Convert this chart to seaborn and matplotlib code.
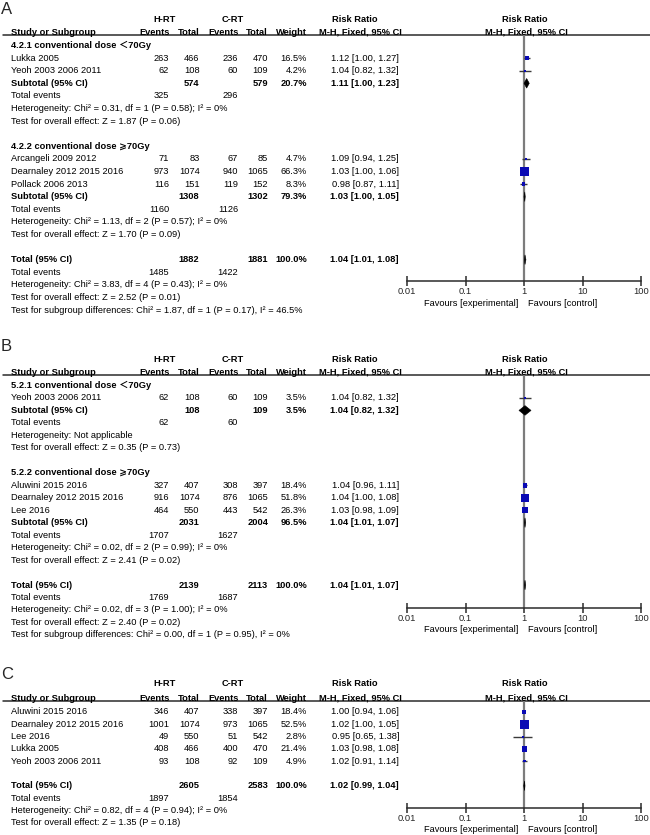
import matplotlib
matplotlib.use("Agg")
import matplotlib.pyplot as plt
import matplotlib.ticker as mticker
import seaborn as sns

# ---------------- panel A ----------------
A_titles = ["4.2.1 conventional dose ＜70Gy", "4.2.2 conventional dose ⩾70Gy"]
A_studies = [["Lukka 2005", "Yeoh 2003 2006 2011"],
             ["Arcangeli 2009 2012", "Dearnaley 2012 2015 2016", "Pollack 2006 2013"]]
A_hrt_ev = [[263, 62], [71, 973, 116]]
A_hrt_n = [[466, 108], [83, 1074, 151]]
A_crt_ev = [[236, 60], [67, 940, 119]]
A_crt_n = [[470, 109], [85, 1065, 152]]
A_weight = [[16.5, 4.2], [4.7, 66.3, 8.3]]
A_rr = [[1.12, 1.04], [1.09, 1.03, 0.98]]
A_lo = [[1.00, 0.82], [0.94, 1.00, 0.87]]
A_hi = [[1.27, 1.32], [1.25, 1.06, 1.11]]
A_sub_n = [[574, 579], [1308, 1302]]
A_sub_ev = [[325, 296], [1160, 1126]]
A_sub_w = [20.7, 79.3]
A_sub_rr = [[1.11, 1.00, 1.23], [1.03, 1.00, 1.05]]
A_sub_notes = [["Heterogeneity: Chi² = 0.31, df = 1 (P = 0.58); I² = 0%",
                "Test for overall effect: Z = 1.87 (P = 0.06)"],
               ["Heterogeneity: Chi² = 1.13, df = 2 (P = 0.57); I² = 0%",
                "Test for overall effect: Z = 1.70 (P = 0.09)"]]
A_tot_n = [1882, 1881]
A_tot_ev = [1485, 1422]
A_tot_rr = [1.04, 1.01, 1.08]
A_tot_notes = ["Heterogeneity: Chi² = 3.83, df = 4 (P = 0.43); I² = 0%",
               "Test for overall effect: Z = 2.52 (P = 0.01)",
               "Test for subgroup differences: Chi² = 1.87, df = 1 (P = 0.17), I² = 46.5%"]

# ---------------- panel B ----------------
B_titles = ["5.2.1 conventional dose ＜70Gy", "5.2.2 conventional dose ⩾70Gy"]
B_studies = [["Yeoh 2003 2006 2011"],
             ["Aluwini 2015 2016", "Dearnaley 2012 2015 2016", "Lee 2016"]]
B_hrt_ev = [[62], [327, 916, 464]]
B_hrt_n = [[108], [407, 1074, 550]]
B_crt_ev = [[60], [308, 876, 443]]
B_crt_n = [[109], [397, 1065, 542]]
B_weight = [[3.5], [18.4, 51.8, 26.3]]
B_rr = [[1.04], [1.04, 1.04, 1.03]]
B_lo = [[0.82], [0.96, 1.00, 0.98]]
B_hi = [[1.32], [1.11, 1.08, 1.09]]
B_sub_n = [[108, 109], [2031, 2004]]
B_sub_ev = [[62, 60], [1707, 1627]]
B_sub_w = [3.5, 96.5]
B_sub_rr = [[1.04, 0.82, 1.32], [1.04, 1.01, 1.07]]
B_sub_notes = [["Heterogeneity: Not applicable",
                "Test for overall effect: Z = 0.35 (P = 0.73)"],
               ["Heterogeneity: Chi² = 0.02, df = 2 (P = 0.99); I² = 0%",
                "Test for overall effect: Z = 2.41 (P = 0.02)"]]
B_tot_n = [2139, 2113]
B_tot_ev = [1769, 1687]
B_tot_rr = [1.04, 1.01, 1.07]
B_tot_notes = ["Heterogeneity: Chi² = 0.02, df = 3 (P = 1.00); I² = 0%",
               "Test for overall effect: Z = 2.40 (P = 0.02)",
               "Test for subgroup differences: Chi² = 0.00, df = 1 (P = 0.95), I² = 0%"]

# ---------------- panel C ----------------
C_titles = [None]
C_studies = [["Aluwini 2015 2016", "Dearnaley 2012 2015 2016", "Lee 2016",
              "Lukka 2005", "Yeoh 2003 2006 2011"]]
C_hrt_ev = [[346, 1001, 49, 408, 93]]
C_hrt_n = [[407, 1074, 550, 466, 108]]
C_crt_ev = [[338, 973, 51, 400, 92]]
C_crt_n = [[397, 1065, 542, 470, 109]]
C_weight = [[18.4, 52.5, 2.8, 21.4, 4.9]]
C_rr = [[1.00, 1.02, 0.95, 1.03, 1.02]]
C_lo = [[0.94, 1.00, 0.65, 0.98, 0.91]]
C_hi = [[1.06, 1.05, 1.38, 1.08, 1.14]]
C_tot_n = [2605, 2583]
C_tot_ev = [1897, 1854]
C_tot_rr = [1.02, 0.99, 1.04]
C_tot_notes = ["Heterogeneity: Chi² = 0.82, df = 4 (P = 0.94); I² = 0%",
               "Test for overall effect: Z = 1.35 (P = 0.18)"]

tick_vals = [0.01, 0.1, 1, 10, 100]
tick_labels = ["0.01", "0.1", "1", "10", "100"]

sns.set_theme(style="white")
plt.rcParams["font.family"] = ["Liberation Sans", "Noto Sans CJK SC", "DejaVu Sans"]
FS = 6.7
W, H = 650, 835
BLUE = "#0a0ab4"

fig = plt.figure(figsize=(6.5, 8.35), dpi=100)
tax = fig.add_axes([0, 0, 1, 1])
tax.set_xlim(0, W)
tax.set_ylim(H, 0)
tax.axis("off")

# column right edges (px)
X_LEFT, X_HE, X_HN, X_CE, X_CN, X_W, X_RR = 11, 169, 199.5, 238, 268, 307, 399


def txt(x, y, s, ha="left", bold=False, size=FS, va="center"):
    tax.text(x, y, s, ha=ha, va=va, fontsize=size,
             fontweight="bold" if bold else "normal", color="black")


def rr_str(v):
    return f"{v[0]:.2f} [{v[1]:.2f}, {v[2]:.2f}]"


def draw_panel(letter, lay, titles, studies, he, hn, ce, cn, wt, rr, lo, hi,
               sub_n, sub_ev, sub_w, sub_rr, sub_notes, tot_n, tot_ev, tot_rr, tot_notes):
    tax.text(1, lay["letter"], letter, fontsize=12, va="center", ha="left")
    txt(165, lay["hrt"], "H-RT", ha="center", bold=True)
    txt(233, lay["hrt"], "C-RT", ha="center", bold=True)
    txt(355, lay["hrt"], "Risk Ratio", ha="center", bold=True)
    txt(525, lay["hrt"], "Risk Ratio", ha="center", bold=True)
    # column headers sit on the rule, descenders crossing it
    hy = lay["line"] - 0.3
    hk = dict(bold=True, va="baseline")
    txt(X_LEFT, hy, "Study or Subgroup", **hk)
    txt(X_HE + 1, hy, "Events", ha="right", **hk)
    txt(X_HN + 0.5, hy, "Total", ha="right", **hk)
    txt(X_CE + 1, hy, "Events", ha="right", **hk)
    txt(X_CN, hy, "Total", ha="right", **hk)
    txt(X_W, hy, "Weight", ha="right", **hk)
    txt(360, hy, "M-H, Fixed, 95% CI", ha="center", **hk)
    txt(526, hy, "M-H, Fixed, 95% CI", ha="center", **hk)
    tax.plot([3, W], [lay["line"], lay["line"]], color="#2b2b2b", lw=1.1)

    sq_y, sq_x, sq_w, ci_lo, ci_hi = [], [], [], [], []
    diamonds = []
    k = 0
    for g, title in enumerate(titles):
        if title:
            txt(X_LEFT, lay["row0"] + lay["step"] * k, title, bold=True)
            k += 1
        for i, name in enumerate(studies[g]):
            y = lay["row0"] + lay["step"] * k
            txt(X_LEFT, y, name)
            txt(X_HE, y, str(he[g][i]), ha="right")
            txt(X_HN, y, str(hn[g][i]), ha="right")
            txt(X_CE, y, str(ce[g][i]), ha="right")
            txt(X_CN, y, str(cn[g][i]), ha="right")
            txt(X_W, y, f"{wt[g][i]:.1f}%", ha="right")
            txt(X_RR, y, rr_str((rr[g][i], lo[g][i], hi[g][i])), ha="right")
            sq_y.append(y)
            sq_x.append(rr[g][i])
            sq_w.append(wt[g][i])
            ci_lo.append(lo[g][i])
            ci_hi.append(hi[g][i])
            k += 1
        if sub_n is not None:
            y = lay["row0"] + lay["step"] * k
            txt(X_LEFT, y, "Subtotal (95% CI)", bold=True)
            txt(X_HN, y, str(sub_n[g][0]), ha="right", bold=True)
            txt(X_CN, y, str(sub_n[g][1]), ha="right", bold=True)
            txt(X_W, y, f"{sub_w[g]:.1f}%", ha="right", bold=True)
            txt(X_RR, y, rr_str(sub_rr[g]), ha="right", bold=True)
            diamonds.append((y, sub_rr[g]))
            k += 1
            y = lay["row0"] + lay["step"] * k
            txt(X_LEFT, y, "Total events")
            txt(X_HE, y, str(sub_ev[g][0]), ha="right")
            txt(X_CE, y, str(sub_ev[g][1]), ha="right")
            k += 1
            for note in sub_notes[g]:
                txt(X_LEFT, lay["row0"] + lay["step"] * k, note)
                k += 1
        k += 1
    y = lay["row0"] + lay["step"] * k
    txt(X_LEFT, y, "Total (95% CI)", bold=True)
    txt(X_HN, y, str(tot_n[0]), ha="right", bold=True)
    txt(X_CN, y, str(tot_n[1]), ha="right", bold=True)
    txt(X_W, y, "100.0%", ha="right", bold=True)
    txt(X_RR, y, rr_str(tot_rr), ha="right", bold=True)
    diamonds.append((y, tot_rr))
    k += 1
    y = lay["row0"] + lay["step"] * k
    txt(X_LEFT, y, "Total events")
    txt(X_HE, y, str(tot_ev[0]), ha="right")
    txt(X_CE, y, str(tot_ev[1]), ha="right")
    k += 1
    for note in tot_notes:
        txt(X_LEFT, lay["row0"] + lay["step"] * k, note)
        k += 1

    # forest axes, y in pixel units so rows line up with the text
    ax_y, top = lay["axis"], lay["line"]
    ax = fig.add_axes([407 / W, 1 - ax_y / H, 234 / W, (ax_y - top) / H])
    ax.patch.set_alpha(0)
    ax.set_xscale("log")
    ax.set_xlim(0.01, 100)
    ax.set_ylim(ax_y, top)
    ax.axvline(1, color="#7c7c7c", lw=1.6, zorder=1)
    ax.hlines(sq_y, ci_lo, ci_hi, color="#3a3a3a", lw=1.0, zorder=2)
    sns.scatterplot(x=sq_x, y=sq_y, size=sq_w, sizes=(0, 70), size_norm=(0, 100),
                    marker="s", color=BLUE, linewidth=0, legend=False, ax=ax, zorder=3)
    for dy, (est, dlo, dhi) in diamonds:
        ax.fill([dlo, est, dhi, est], [dy, dy - 4.8, dy, dy + 4.8],
                color="black", lw=0.4, zorder=4)
    for s in ("top", "left", "right"):
        ax.spines[s].set_visible(False)
    ax.spines["bottom"].set_color("#2b2b2b")
    ax.spines["bottom"].set_linewidth(1.1)
    ax.set_xticks(tick_vals)
    ax.set_xticklabels(tick_labels)
    ax.xaxis.set_minor_locator(mticker.NullLocator())
    ax.set_yticks([])
    ax.tick_params(axis="x", direction="inout", length=7, width=1.1, color="#2b2b2b",
                   labelsize=FS, pad=1, bottom=True)
    ax.set_xlabel("")
    ax.set_ylabel("")
    txt(518, ax_y + 22, "Favours [experimental]", ha="right")
    txt(528, ax_y + 22, "Favours [control]", ha="left")


draw_panel("A", dict(letter=9, hrt=19, line=35, row0=45.5, step=12.6, axis=281),
           A_titles, A_studies, A_hrt_ev, A_hrt_n, A_crt_ev, A_crt_n, A_weight, A_rr, A_lo, A_hi,
           A_sub_n, A_sub_ev, A_sub_w, A_sub_rr, A_sub_notes,
           A_tot_n, A_tot_ev, A_tot_rr, A_tot_notes)
draw_panel("B", dict(letter=346.5, hrt=359, line=375, row0=385.5, step=12.47, axis=608),
           B_titles, B_studies, B_hrt_ev, B_hrt_n, B_crt_ev, B_crt_n, B_weight, B_rr, B_lo, B_hi,
           B_sub_n, B_sub_ev, B_sub_w, B_sub_rr, B_sub_notes,
           B_tot_n, B_tot_ev, B_tot_rr, B_tot_notes)
draw_panel("C", dict(letter=674.5, hrt=684, line=701, row0=712, step=12.3, axis=808),
           C_titles, C_studies, C_hrt_ev, C_hrt_n, C_crt_ev, C_crt_n, C_weight, C_rr, C_lo, C_hi,
           None, None, None, None, None,
           C_tot_n, C_tot_ev, C_tot_rr, C_tot_notes)

fig.savefig("out.png", dpi=100, facecolor="white")
